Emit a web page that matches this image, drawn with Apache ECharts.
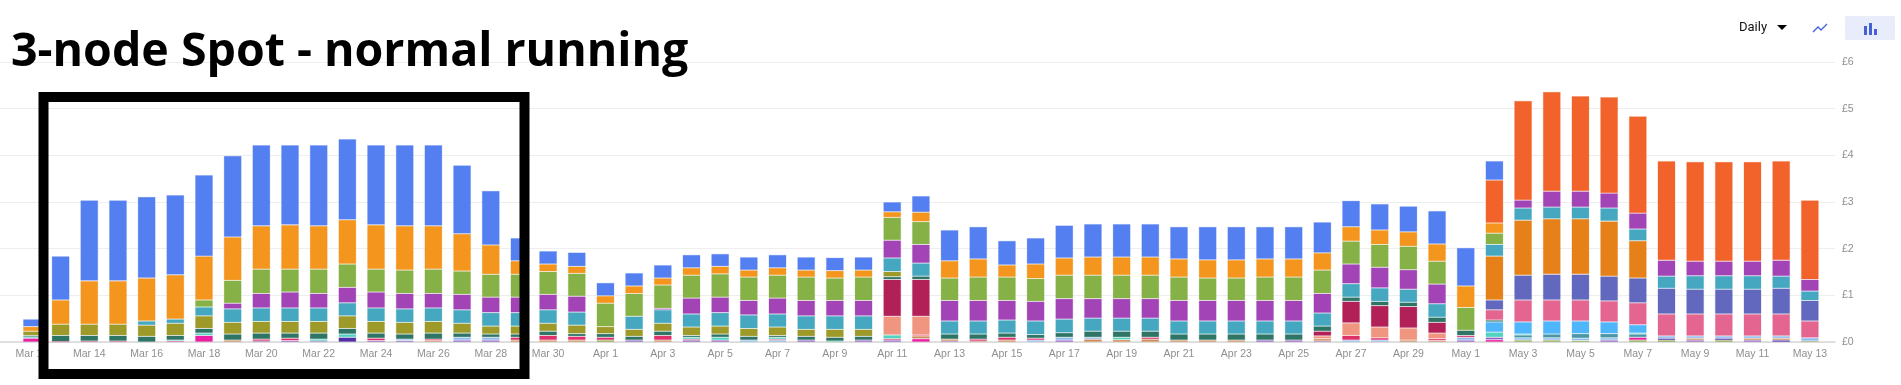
<!DOCTYPE html>
<html>
<head>
<meta charset="utf-8">
<style>html,body{margin:0;padding:0;background:#fff}#c{width:1901px;height:385px}</style>
<script src="https://cdn.jsdelivr.net/npm/echarts@6/dist/echarts.min.js"></script>
</head>
<body>
<div id="c"></div>
<script>
const _ = null;
const days = ["Mar 12","Mar 13","Mar 14","Mar 15","Mar 16","Mar 17","Mar 18","Mar 19","Mar 20","Mar 21",
"Mar 22","Mar 23","Mar 24","Mar 25","Mar 26","Mar 27","Mar 28","Mar 29","Mar 30","Mar 31",
"Apr 1","Apr 2","Apr 3","Apr 4","Apr 5","Apr 6","Apr 7","Apr 8","Apr 9","Apr 10",
"Apr 11","Apr 12","Apr 13","Apr 14","Apr 15","Apr 16","Apr 17","Apr 18","Apr 19","Apr 20",
"Apr 21","Apr 22","Apr 23","Apr 24","Apr 25","Apr 26","Apr 27","Apr 28","Apr 29","Apr 30",
"May 1","May 2","May 3","May 4","May 5","May 6","May 7","May 8","May 9","May 10",
"May 11","May 12","May 13"];
const yTicks = [0,1,2,3,4,5,6];
const smallGreen = [_,_,_,_,_,_,_,_,_,_, _,_,_,_,_,_,_,_,_,_, .04,_,_,_,_,_,_,_,_,_, _,_,_,_,_,_,_,_,_,_, _,_,_,_,_,_,_,_,_,_, _,_,.04,.04,.03,_,.04,.04,_,.04, _,_,.02];
const deepPurple = [_,_,_,_,_,_,_,_,_,_, _,.10,_,_,_,_,_,_,_,_, _,_,_,_,_,_,_,_,_,_, _,_,_,_,_,_,_,_,_,_, _,_,_,_,_,_,_,_,_,_, _,_,_,_,_,_,_,.04,_,.04, _,.04,_];
const magenta = [.08,_,_,_,_,.02,.14,_,_,_, _,_,_,_,_,_,_,_,_,_, _,_,_,_,_,_,_,_,_,_, _,.07,_,_,_,_,_,_,_,_, _,_,_,_,_,_,_,_,_,_, _,.05,_,_,_,_,.06,_,_,_, _,_,_];
const violet = [_,_,_,_,_,_,_,_,.02,.03, .02,_,.03,.03,_,.04,.04,_,_,_, _,.04,_,.04,.04,_,_,.04,_,.04, .04,_,.02,_,_,_,.04,_,_,_, _,_,_,.04,.04,.02,_,_,_,_, .04,.05,_,_,_,.04,_,_,.04,_, .04,_,_];
const tan = [_,_,_,_,_,_,_,.04,_,_, _,_,_,_,.03,_,_,.04,.04,.04, _,_,.04,_,_,_,_,_,_,_, _,.06,.04,.02,.04,_,_,.06,.05,.06, .04,.04,.04,_,_,.05,_,_,.04,.03, _,_,_,_,_,_,_,_,.04,_, .04,.04,_];
const lightBlue = [_,_,_,_,_,_,_,_,_,_, _,_,_,.03,_,.06,.06,_,_,_, _,_,_,_,_,.04,.04,_,_,_, _,_,_,_,_,.04,.06,.04,_,_, _,_,_,_,_,_,.04,.04,_,_, .06,_,.05,.05,.05,.05,_,.05,.05,.05, .05,.05,.07];
const red = [_,.01,.02,.02,_,_,_,_,.04,.05, _,_,.05,_,.03,_,_,.06,.10,.08, .06,_,.10,.02,_,_,.02,_,_,_, .03,.02,_,.04,.06,.04,_,_,_,.04, _,_,_,_,_,_,.10,.05,_,.04, .04,_,_,_,_,_,_,_,_,_, _,_,_];
const tealSmall = [_,_,_,_,_,_,_,_,_,_, _,_,_,_,_,_,_,_,_,_, _,_,_,_,_,_,_,_,_,_, _,_,_,_,_,_,_,_,_,_, _,_,_,_,_,_,_,_,_,_, _,_,.06,.08,.10,.09,.07,_,_,_, _,_,_];
const lightTeal = [.03,_,_,_,_,.02,.05,_,_,_, .04,.07,_,_,_,_,_,_,_,_, _,_,_,.04,.06,_,.04,_,.02,_, .08,_,_,_,_,_,_,_,.05,_, _,_,_,_,_,_,_,_,_,_, _,.11,.02,_,_,_,.02,_,_,_, _,_,_];
const sky = [_,_,_,_,_,_,_,_,_,_, _,_,_,_,_,_,_,_,_,_, _,_,_,_,_,_,_,_,_,_, _,_,_,_,_,_,_,_,_,_, _,_,_,_,_,_,_,_,_,_, _,.22,.26,.28,.27,.25,.18,_,_,_, _,_,_];
const salmon = [_,_,_,_,_,_,_,_,_,_, _,_,_,_,_,_,_,_,_,_, _,_,_,_,_,_,_,_,_,_, .40,.40,_,_,_,_,_,_,_,_, _,_,_,_,_,.06,.27,.23,.26,.12, _,_,_,_,_,_,_,_,_,_, _,_,_];
const crimson = [_,_,_,_,_,_,_,_,_,_, _,_,_,_,_,_,_,_,_,_, _,_,_,_,_,_,_,_,_,_, .79,.79,_,_,_,_,_,_,_,_, _,_,_,_,_,.10,.46,.46,.46,.23, _,_,_,_,_,_,_,_,_,_, _,_,_];
const darkGreen = [.03,.13,.12,.12,.12,.10,.10,.13,.13,.11, .13,.12,.11,.11,.13,.09,.07,.07,.09,.06, .08,.08,.09,.04,.07,.08,.04,.08,.08,.08, .06,.07,.11,.11,.09,.08,.10,.13,.13,.13, .13,.13,.13,.13,.13,.11,.09,.09,.09,.11, .11,.04,_,_,_,_,_,_,_,_, _,_,_];
const pink = [_,_,_,_,_,_,_,_,_,_, _,_,_,_,_,_,_,_,_,_, _,_,_,_,_,_,_,_,_,_, _,_,_,_,_,_,_,_,_,_, _,_,_,_,_,_,_,_,_,_, _,.22,.47,.45,.45,.45,.47,.47,.47,.47, .47,.47,.36];
const indigo = [_,_,_,_,_,_,_,_,_,_, _,_,_,_,_,_,_,_,_,_, _,_,_,_,_,_,_,_,_,_, _,_,_,_,_,_,_,_,_,_, _,_,_,_,_,_,_,_,_,_, _,.21,.53,.55,.55,.53,.53,.55,.53,.53, .53,.55,.44];
const darkOrange = [_,_,_,_,_,_,_,_,_,_, _,_,_,_,_,_,_,_,_,_, _,_,_,_,_,_,_,_,_,_, _,_,_,_,_,_,_,_,_,_, _,_,_,_,_,_,_,_,_,_, _,.94,1.18,1.19,1.19,1.18,.80,_,_,_, _,_,_];
const olive = [.09,.24,.24,.24,.24,.26,.27,.25,.25,.25, .25,.27,.25,.25,.25,.21,.17,.17,.17,.18, .15,.15,.17,.18,.17,.17,.18,.15,.17,.15, .11,_,_,_,_,_,_,_,_,_, _,_,_,_,_,_,_,_,_,_, _,_,_,_,_,_,_,_,_,_, _,_,_];
const teal = [_,_,_,_,.09,.09,.19,.29,.29,.29, .29,.28,.29,.29,.29,.29,.29,.29,.29,.28, _,.28,.29,.28,.29,.29,.28,.29,.29,.29, .29,.28,.28,.28,.28,.29,.29,.28,.28,.28, .28,.28,.28,.28,.28,.28,.29,.29,.28,.29, _,.25,.26,.25,.25,.28,.25,.26,.29,.29, .29,.26,.20];
const purple = [_,_,_,_,_,_,_,.12,.31,.34, .31,.33,.34,.33,.31,.33,.33,.33,.33,.34, _,_,.03,.34,.33,.31,.34,.33,.33,.33, .38,.40,.44,.44,.42,.42,.44,.42,.42,.42, .44,.44,.44,.44,.44,.42,.42,.44,.42,.42, _,_,.17,.34,.34,.32,.34,.34,.31,.31, .31,.34,.25];
const green = [_,_,_,_,_,_,.15,.49,.52,.49, .52,.50,.49,.50,.52,.50,.49,.49,.49,.49, .50,.49,.50,.49,.50,.50,.49,.50,.48,.50, .49,.49,.48,.50,.50,.49,.50,.50,.50,.50, .50,.48,.48,.50,.50,.50,.49,.49,.50,.49, .49,.24,_,_,_,_,_,_,_,_, _,_,_];
const orange = [.10,.52,.93,.93,.92,.95,.94,.93,.93,.95, .93,.95,.95,.95,.93,.80,.63,.29,.16,.15, .16,.16,.15,.16,.16,.15,.16,.15,.16,.15, .12,.20,.37,.39,.26,.31,.37,.39,.39,.39, .39,.39,.39,.39,.39,.37,.31,.31,.31,.37, .46,.22,_,_,_,_,_,_,_,_, _,_,_];
const deepOrange = [_,_,_,_,_,_,_,_,_,_, _,_,_,_,_,_,_,_,_,_, _,_,_,_,_,_,_,_,_,_, _,_,_,_,_,_,_,_,_,_, _,_,_,_,_,_,_,_,_,_, _,.92,2.13,2.13,2.04,2.06,2.08,2.13,2.13,2.13, 2.13,2.13,1.70];
const blue = [.16,.94,1.73,1.73,1.74,1.71,1.74,1.74,1.73,1.71, 1.73,1.73,1.71,1.73,1.73,1.47,1.16,.49,.28,.30, .28,.28,.28,.28,.27,.28,.28,.28,.28,.28, .21,.35,.66,.69,.52,.56,.70,.71,.71,.71, .69,.71,.71,.69,.69,.66,.56,.56,.55,.71, .82,.41,_,_,_,_,_,_,_,_, _,_,_];

const stackOrder = [
 ["Small green",smallGreen,"#8aa63c"],["Deep purple",deepPurple,"#4f2fa8"],["Magenta",magenta,"#ea1fa3"],
 ["Violet",violet,"#8f5fc4"],["Tan",tan,"#cf8f5c"],["Light blue",lightBlue,"#90bcee"],["Red",red,"#e0306a"],
 ["Teal small",tealSmall,"#4a98a6"],["Light teal",lightTeal,"#52d3c1"],["Sky",sky,"#4fb6fb"],
 ["Salmon",salmon,"#f09680"],["Crimson",crimson,"#b22058"],["Dark green",darkGreen,"#2e7566"],
 ["Pink",pink,"#e36590"],["Indigo",indigo,"#6168bd"],["Dark orange",darkOrange,"#e68019"],
 ["Olive",olive,"#9d9a2a"],["Teal",teal,"#45a8c0"],["Purple",purple,"#a344b6"],["Green",green,"#86b146"],
 ["Orange",orange,"#f4951d"],["Deep orange",deepOrange,"#f2622b"],["Blue",blue,"#547ff0"]
];
const chart = echarts.init(document.getElementById('c'),null,{renderer:'canvas'});
const font = '"Liberation Sans",Arial,sans-serif';
chart.setOption({
 animation:false,
 backgroundColor:'#fff',
 title:{text:'3-node Spot - normal running',left:6,top:24,textStyle:{fontFamily:'"Open Sans"',fontWeight:700,fontSize:46.5,color:'#000'}},
 grid:[
  {left:0,right:66,top:62,height:280},
  {left:17.6,width:1806.6,top:62,height:280}
 ],
 xAxis:[
  {gridIndex:0,type:'category',data:[''],axisLine:{lineStyle:{color:'#d8d8d8',width:1.5}},axisTick:{show:false},axisLabel:{show:false}},
  {gridIndex:1,type:'category',data:days,axisLine:{show:false},axisTick:{show:false},
   axisLabel:{interval:1,color:'#8f8f8f',fontFamily:font,fontSize:10.5,margin:7,hideOverlap:false}}
 ],
 yAxis:[
  {gridIndex:0,type:'value',position:'right',min:0,max:6,interval:1,
   axisLine:{show:false},axisTick:{show:false},
   axisLabel:{color:'#8f8f8f',fontFamily:font,fontSize:10.5,margin:7,formatter:v=>'£'+yTicks[v]},
   splitLine:{lineStyle:{color:'#eeeeee',width:1}}},
  {gridIndex:1,type:'value',min:0,max:6,interval:1,show:false,splitLine:{show:false}}
 ],
 series:stackOrder.map(([name,values,color])=>({
  name,type:'bar',stack:'spend',xAxisIndex:1,yAxisIndex:1,data:values,barWidth:18,
  itemStyle:{color,borderColor:color+'40',borderWidth:1}
 })),
 graphic:[
  {type:'rect',shape:{x:43.5,y:97,width:481,height:277},style:{fill:'none',stroke:'#000',lineWidth:10},z:100},
  {type:'text',x:1739,y:21,style:{text:'Daily',fontFamily:'Roboto',fontSize:13,fill:'#111'},z:100},
  {type:'polygon',shape:{points:[[1777,25],[1787,25],[1782,30]]},style:{fill:'#000'},z:100},
  {type:'polyline',shape:{points:[[1813,32],[1818,27],[1821,30],[1827,24]]},style:{stroke:'#4462d4',fill:'none',lineWidth:1.3},z:100},
  {type:'rect',shape:{x:1845,y:16,width:50,height:24,r:1},style:{fill:'#e9ecfa'},z:100},
  {type:'rect',shape:{x:1864,y:26,width:3,height:9},style:{fill:'#4462d4'},z:101},
  {type:'rect',shape:{x:1869,y:23,width:3,height:12},style:{fill:'#4462d4'},z:101},
  {type:'rect',shape:{x:1874,y:29,width:3,height:6},style:{fill:'#4462d4'},z:101}
 ]
});
</script>
</body>
</html>
